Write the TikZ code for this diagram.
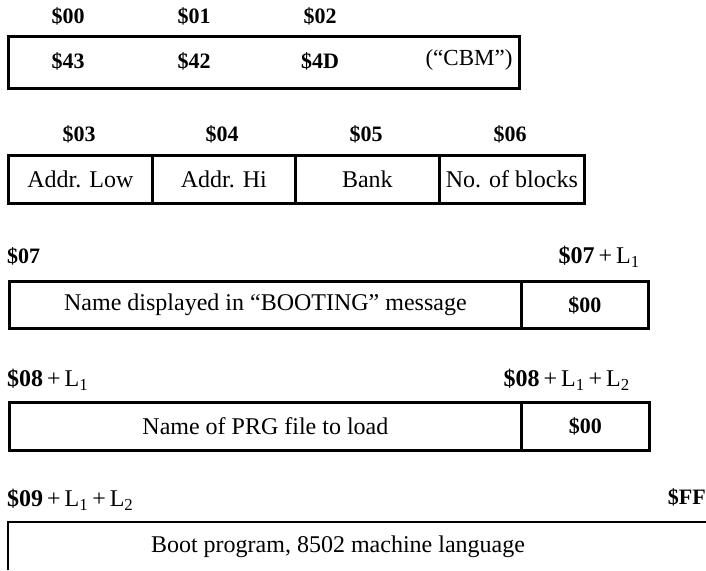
\documentclass[tikz,border=0pt]{standalone}
\usepackage{fontspec}
\setmainfont{Liberation Serif}
\begin{document}
\begin{tikzpicture}[x=1pt,y=-1pt,
 cell/.style={draw, line width=2.8pt, inner sep=0pt, anchor=north west, font=\fontsize{24}{28}\selectfont},
 txt/.style={font=\fontsize{24}{28}\selectfont, inner sep=0pt},
 hex/.style={font=\bfseries\fontsize{22}{26}\selectfont, inner sep=0pt},
 edge/.style={line width=2.8pt}]
\useasboundingbox (0,0) rectangle (706,570);
% row 1
\node[cell, minimum width=511pt, minimum height=52pt] (b1) at (7,35) {};
\node[hex] (l00) at (68,16) {\$00};
\node[hex] (l01) at (194,16) {\$01};
\node[hex] (l02) at (320,16) {\$02};
\node[hex] (v43) at (68,61) {\$43};
\node[hex] (v42) at (194,61) {\$42};
\node[hex] (v4D) at (320,61) {\$4D};
\node[txt, font=\fontsize{23}{26}\selectfont] (cbm) at (469,60) {(“CBM”)};
% row 2
\node[cell, minimum width=144pt, minimum height=48pt] (c3) at (7,154) {Addr. Low};
\node[cell, minimum width=143pt, minimum height=48pt] (c4) at (151,154) {Addr. Hi};
\node[cell, minimum width=144pt, minimum height=48pt] (c5) at (294,154) {Bank};
\node[cell, minimum width=145pt, minimum height=48pt] (c6) at (438,154) {No. of blocks};
\node[hex] (l03) at (79,134) {\$03};
\node[hex] (l04) at (222,134) {\$04};
\node[hex] (l05) at (366,134) {\$05};
\node[hex] (l06) at (510,134) {\$06};
% row 3
\node[cell, minimum width=512pt, minimum height=47pt] (n3) at (8,280) {Name displayed in “BOOTING” message};
\node[cell, minimum width=127pt, minimum height=47pt, font=\bfseries\fontsize{22}{26}\selectfont] (z3) at (520,280) {\$00};
\node[hex, anchor=west] (l07) at (7,256) {\$07};
\node[txt, anchor=east] (l07b) at (640,257) {\textbf{\$07}\,+\,L\textsubscript{1}};
% row 4
\node[cell, minimum width=512pt, minimum height=48pt] (n4) at (8,401) {Name of PRG file to load};
\node[cell, minimum width=128pt, minimum height=48pt, font=\bfseries\fontsize{22}{26}\selectfont] (z4) at (520,401) {\$00};
\node[txt, anchor=west] (l08) at (7,380) {\textbf{\$08}\,+\,L\textsubscript{1}};
\node[txt, anchor=east] (l08b) at (630,380) {\textbf{\$08}\,+\,L\textsubscript{1}\,+\,L\textsubscript{2}};
% row 5
\coordinate (p1) at (8,570);
\coordinate (p2) at (8,522);
\coordinate (p3) at (706,522);
\draw[edge] (p1) -- (p2) -- (p3);
\node[txt] (boot) at (338,547) {Boot program, 8502 machine language};
\node[txt, anchor=west] (l09) at (7,500) {\textbf{\$09}\,+\,L\textsubscript{1}\,+\,L\textsubscript{2}};
\node[hex, anchor=east] (lff) at (706,497) {\$FF};
\end{tikzpicture}
\end{document}
